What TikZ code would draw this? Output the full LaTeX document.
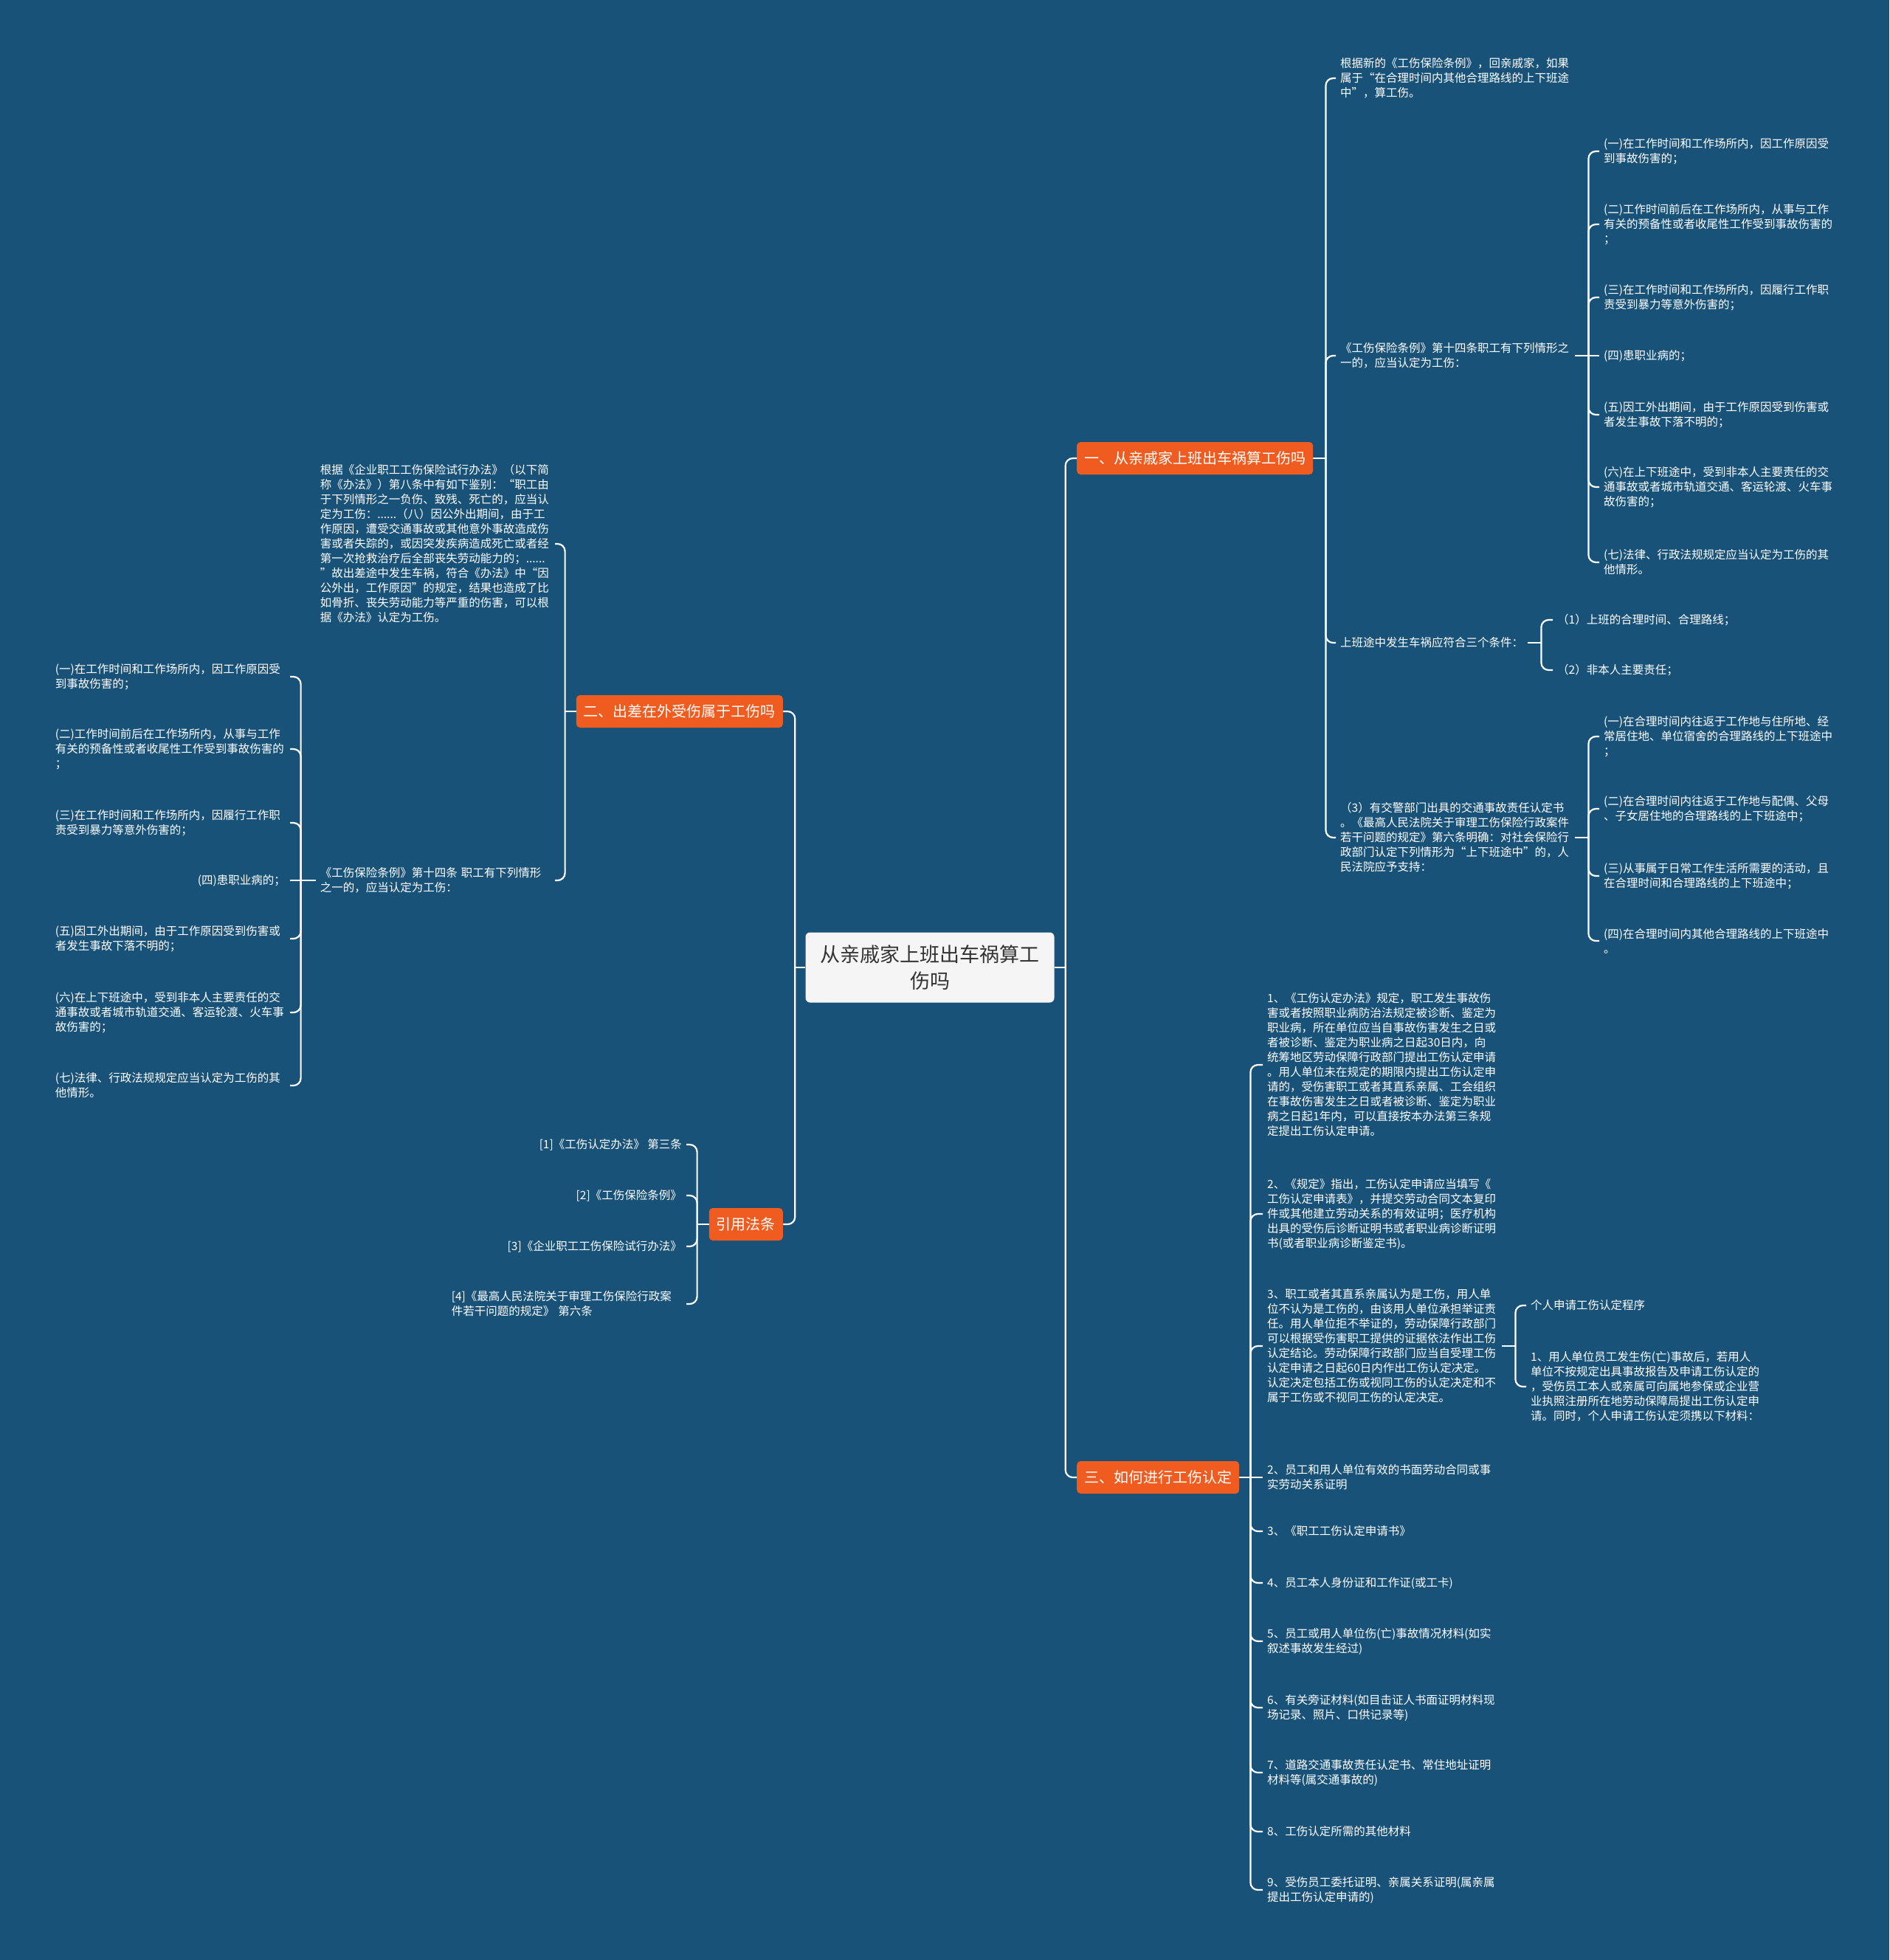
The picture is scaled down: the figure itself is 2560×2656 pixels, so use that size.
\documentclass[tikz,border=0pt]{standalone}
\usepackage{fontspec}
\setmainfont{Noto Sans CJK SC}
\usepackage{tikz}
\definecolor{deepsea}{RGB}{25,82,120}
\definecolor{tangerine}{RGB}{240,92,32}
\definecolor{paper}{RGB}{245,245,245}
\definecolor{ink}{RGB}{51,51,51}
\tikzset{
  root/.style ={fill=paper,text=ink,rounded corners=6pt,align=center,font=\fontsize{27}{36}\selectfont,minimum width=337pt,minimum height=95pt},
  topic/.style={fill=tangerine,text=white,rounded corners=5pt,font=\fontsize{20}{24}\selectfont,inner xsep=10pt,inner ysep=0pt,minimum height=44pt},
  leaf/.style ={text=white,align=left,font=\fontsize{15.5}{20}\selectfont,inner sep=6pt},
  wleaf/.style={leaf,text width=312pt},
  link/.style ={draw=white,line width=2.2pt,rounded corners=10pt},
}
\begin{document}
\begin{tikzpicture}[x=1pt,y=-1pt]
\fill[deepsea] (0,0) rectangle (2560,2656);
% centre and main branches
\node[root] (root) at (1260,1311) {从亲戚家上班出车祸算工\\伤吗};
\node[topic,anchor=west] (t1) at (1459,621) {一、从亲戚家上班出车祸算工伤吗};
\node[topic,anchor=east] (t2) at (1061,964) {二、出差在外受伤属于工伤吗};
\node[topic,anchor=east] (tref) at (1061,1659) {引用法条};
\node[topic,anchor=west] (t3) at (1459,2002) {三、如何进行工伤认定};
% branch one
\node[wleaf,anchor=west] (c1) at (1810,106) {根据新的《工伤保险条例》，回亲戚家，如果\\属于“在合理时间内其他合理路线的上下班途\\中”，算工伤。};
\node[wleaf,anchor=west] (c2) at (1810,482) {《工伤保险条例》第十四条职工有下列情形之\\一的，应当认定为工伤：};
\node[leaf,anchor=west] (c3) at (1810,871) {上班途中发生车祸应符合三个条件：};
\node[wleaf,anchor=west] (c4) at (1810,1135) {（3）有交警部门出具的交通事故责任认定书\\。《最高人民法院关于审理工伤保险行政案件\\若干问题的规定》第六条明确：对社会保险行\\政部门认定下列情形为“上下班途中”的，人\\民法院应予支持：};
\node[wleaf,anchor=west] (g1) at (2167,205) {(一)在工作时间和工作场所内，因工作原因受\\到事故伤害的；};
\node[wleaf,anchor=west] (g2) at (2167,304) {(二)工作时间前后在工作场所内，从事与工作\\有关的预备性或者收尾性工作受到事故伤害的\\；};
\node[wleaf,anchor=west] (g3) at (2167,403) {(三)在工作时间和工作场所内，因履行工作职\\责受到暴力等意外伤害的；};
\node[leaf,anchor=west] (g4) at (2167,482) {(四)患职业病的；};
\node[wleaf,anchor=west] (g5) at (2167,562) {(五)因工外出期间，由于工作原因受到伤害或\\者发生事故下落不明的；};
\node[wleaf,anchor=west] (g6) at (2167,660) {(六)在上下班途中，受到非本人主要责任的交\\通事故或者城市轨道交通、客运轮渡、火车事\\故伤害的；};
\node[wleaf,anchor=west] (g7) at (2167,762) {(七)法律、行政法规规定应当认定为工伤的其\\他情形。};
\node[leaf,anchor=west] (h1) at (2104,840) {（1）上班的合理时间、合理路线；};
\node[leaf,anchor=west] (h2) at (2104,908) {（2）非本人主要责任；};
\node[wleaf,anchor=west] (k1) at (2167,998) {(一)在合理时间内往返于工作地与住所地、经\\常居住地、单位宿舍的合理路线的上下班途中\\；};
\node[wleaf,anchor=west] (k2) at (2167,1096) {(二)在合理时间内往返于工作地与配偶、父母\\、子女居住地的合理路线的上下班途中；};
\node[wleaf,anchor=west] (k3) at (2167,1187) {(三)从事属于日常工作生活所需要的活动，且\\在合理时间和合理路线的上下班途中；};
\node[wleaf,anchor=west] (k4) at (2167,1275) {(四)在合理时间内其他合理路线的上下班途中\\。};
% branch two
\node[wleaf,anchor=east] (d1) at (752,737) {根据《企业职工工伤保险试行办法》（以下简\\称《办法》）第八条中有如下鉴别：“职工由\\于下列情形之一负伤、致残、死亡的，应当认\\定为工伤：......（八）因公外出期间，由于工\\作原因，遭受交通事故或其他意外事故造成伤\\害或者失踪的，或因突发疾病造成死亡或者经\\第一次抢救治疗后全部丧失劳动能力的；......\\”故出差途中发生车祸，符合《办法》中“因\\公外出，工作原因”的规定，结果也造成了比\\如骨折、丧失劳动能力等严重的伤害，可以根\\据《办法》认定为工伤。};
\node[wleaf,anchor=east] (d2) at (752,1193) {《工伤保险条例》第十四条~职工有下列情形\\之一的，应当认定为工伤：};
\node[wleaf,anchor=east] (m1) at (393,917) {(一)在工作时间和工作场所内，因工作原因受\\到事故伤害的；};
\node[wleaf,anchor=east] (m2) at (393,1015) {(二)工作时间前后在工作场所内，从事与工作\\有关的预备性或者收尾性工作受到事故伤害的\\；};
\node[wleaf,anchor=east] (m3) at (393,1115) {(三)在工作时间和工作场所内，因履行工作职\\责受到暴力等意外伤害的；};
\node[leaf,anchor=east] (m4) at (393,1193) {(四)患职业病的；};
\node[wleaf,anchor=east] (m5) at (393,1272) {(五)因工外出期间，由于工作原因受到伤害或\\者发生事故下落不明的；};
\node[wleaf,anchor=east] (m6) at (393,1372) {(六)在上下班途中，受到非本人主要责任的交\\通事故或者城市轨道交通、客运轮渡、火车事\\故伤害的；};
\node[wleaf,anchor=east] (m7) at (393,1471) {(七)法律、行政法规规定应当认定为工伤的其\\他情形。};
% references
\node[leaf,anchor=east] (r1) at (930,1551) {[1]《工伤认定办法》~第三条};
\node[leaf,anchor=east] (r2) at (930,1620) {[2]《工伤保险条例》};
\node[leaf,anchor=east] (r3) at (930,1689) {[3]《企业职工工伤保险试行办法》};
\node[wleaf,anchor=east] (r4) at (930,1767) {[4]《最高人民法院关于审理工伤保险行政案\\件若干问题的规定》~第六条};
% branch three
\node[wleaf,anchor=west] (e1) at (1711,1443) {1、《工伤认定办法》规定，职工发生事故伤\\害或者按照职业病防治法规定被诊断、鉴定为\\职业病，所在单位应当自事故伤害发生之日或\\者被诊断、鉴定为职业病之日起30日内，向\\统筹地区劳动保障行政部门提出工伤认定申请\\。用人单位未在规定的期限内提出工伤认定申\\请的，受伤害职工或者其直系亲属、工会组织\\在事故伤害发生之日或者被诊断、鉴定为职业\\病之日起1年内，可以直接按本办法第三条规\\定提出工伤认定申请。};
\node[wleaf,anchor=west] (e2) at (1711,1645) {2、《规定》指出，工伤认定申请应当填写《\\工伤认定申请表》，并提交劳动合同文本复印\\件或其他建立劳动关系的有效证明；医疗机构\\出具的受伤后诊断证明书或者职业病诊断证明\\书(或者职业病诊断鉴定书)。};
\node[wleaf,anchor=west] (e3) at (1711,1824) {3、职工或者其直系亲属认为是工伤，用人单\\位不认为是工伤的，由该用人单位承担举证责\\任。用人单位拒不举证的，劳动保障行政部门\\可以根据受伤害职工提供的证据依法作出工伤\\认定结论。劳动保障行政部门应当自受理工伤\\认定申请之日起60日内作出工伤认定决定。\\认定决定包括工伤或视同工伤的认定决定和不\\属于工伤或不视同工伤的认定决定。};
\node[wleaf,anchor=west] (e4) at (1711,2002) {2、员工和用人单位有效的书面劳动合同或事\\实劳动关系证明};
\node[leaf,anchor=west] (e5) at (1711,2075) {3、《职工工伤认定申请书》};
\node[leaf,anchor=west] (e6) at (1711,2145) {4、员工本人身份证和工作证(或工卡)};
\node[wleaf,anchor=west] (e7) at (1711,2224) {5、员工或用人单位伤(亡)事故情况材料(如实\\叙述事故发生经过)};
\node[wleaf,anchor=west] (e8) at (1711,2314) {6、有关旁证材料(如目击证人书面证明材料现\\场记录、照片、口供记录等)};
\node[wleaf,anchor=west] (e9) at (1711,2402) {7、道路交通事故责任认定书、常住地址证明\\材料等(属交通事故的)};
\node[leaf,anchor=west] (e10) at (1711,2482) {8、工伤认定所需的其他材料};
\node[wleaf,anchor=west] (e11) at (1711,2561) {9、受伤员工委托证明、亲属关系证明(属亲属\\提出工伤认定申请的)};
\node[leaf,anchor=west] (f1) at (2068,1769) {个人申请工伤认定程序};
\node[wleaf,anchor=west] (f2) at (2068,1879) {1、用人单位员工发生伤(亡)事故后，若用人\\单位不按规定出具事故报告及申请工伤认定的\\，受伤员工本人或亲属可向属地参保或企业营\\业执照注册所在地劳动保障局提出工伤认定申\\请。同时，个人申请工伤认定须携以下材料：};
% junctions
\coordinate (rootR) at ([xshift=15pt]root.east);
\coordinate (rootL) at ([xshift=-14pt]root.west);
\coordinate (t1j) at ([xshift=17pt]t1.east);
\coordinate (t2j) at ([xshift=-15pt]t2.west);
\coordinate (trefj) at ([xshift=-16pt]tref.west);
\coordinate (t3j) at ([xshift=15pt]t3.east);
\coordinate (c2j) at ([xshift=18pt]c2.east);
\coordinate (c3j) at ([xshift=18pt]c3.east);
\coordinate (c4j) at ([xshift=18pt]c4.east);
\coordinate (d2j) at ([xshift=-20pt]d2.west);
\coordinate (e3j) at ([xshift=18pt]e3.east);
% connectors
\draw[link] (root.east) -- (rootR); \draw[link] (rootR) |- (t1.west); \draw[link] (rootR) |- (t3.west);
\draw[link] (root.west) -- (rootL); \draw[link] (rootL) |- (t2.east); \draw[link] (rootL) |- (tref.east);
\draw[link] (t1.east) -- (t1j); \draw[link] (t1j) |- (c1.west); \draw[link] (t1j) |- (c2.west); \draw[link] (t1j) |- (c3.west); \draw[link] (t1j) |- (c4.west);
\draw[link] (c2.east) -- (c2j); \draw[link] (c2j) |- (g1.west); \draw[link] (c2j) |- (g2.west); \draw[link] (c2j) |- (g3.west); \draw[link] (c2j) -- (g4.west);
\draw[link] (c2j) |- (g5.west); \draw[link] (c2j) |- (g6.west); \draw[link] (c2j) |- (g7.west);
\draw[link] (c3.east) -- (c3j); \draw[link] (c3j) |- (h1.west); \draw[link] (c3j) |- (h2.west);
\draw[link] (c4.east) -- (c4j); \draw[link] (c4j) |- (k1.west); \draw[link] (c4j) |- (k2.west); \draw[link] (c4j) |- (k3.west); \draw[link] (c4j) |- (k4.west);
\draw[link] (t2.west) -- (t2j); \draw[link] (t2j) |- (d1.east); \draw[link] (t2j) |- (d2.east);
\draw[link] (d2.west) -- (d2j); \draw[link] (d2j) |- (m1.east); \draw[link] (d2j) |- (m2.east); \draw[link] (d2j) |- (m3.east); \draw[link] (d2j) -- (m4.east);
\draw[link] (d2j) |- (m5.east); \draw[link] (d2j) |- (m6.east); \draw[link] (d2j) |- (m7.east);
\draw[link] (tref.west) -- (trefj); \draw[link] (trefj) |- (r1.east); \draw[link] (trefj) |- (r2.east); \draw[link] (trefj) |- (r3.east); \draw[link] (trefj) |- (r4.east);
\draw[link] (t3.east) -- (t3j); \draw[link] (t3j) |- (e1.west); \draw[link] (t3j) |- (e2.west); \draw[link] (t3j) |- (e3.west); \draw[link] (t3j) -- (e4.west);
\draw[link] (t3j) |- (e5.west); \draw[link] (t3j) |- (e6.west); \draw[link] (t3j) |- (e7.west); \draw[link] (t3j) |- (e8.west);
\draw[link] (t3j) |- (e9.west); \draw[link] (t3j) |- (e10.west); \draw[link] (t3j) |- (e11.west);
\draw[link] (e3.east) -- (e3j); \draw[link] (e3j) |- (f1.west); \draw[link] (e3j) |- (f2.west);
\end{tikzpicture}
\end{document}
